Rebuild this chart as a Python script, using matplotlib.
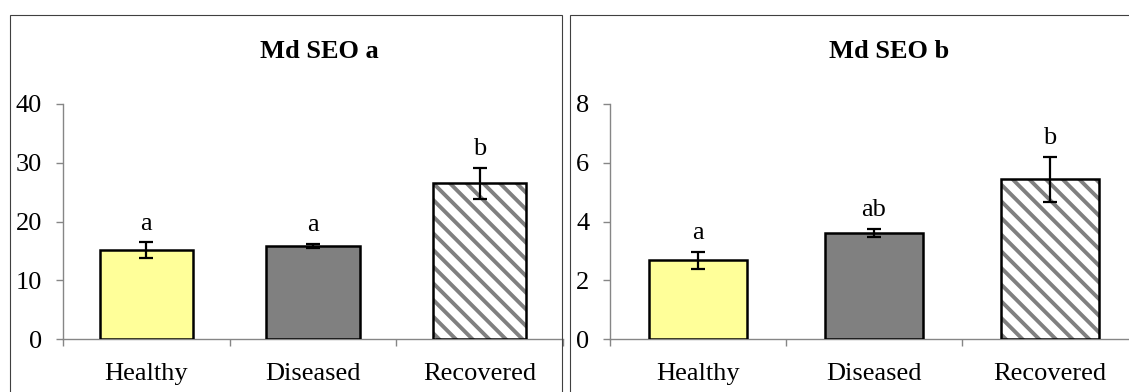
import numpy as np
import matplotlib
matplotlib.use("Agg")
import matplotlib.pyplot as plt
from matplotlib.patches import Rectangle

plt.rcParams['font.family'] = ['Liberation Serif', 'DejaVu Serif']
plt.rcParams['hatch.linewidth'] = 2.8

# Data

groups = ["Healthy", "Diseased", "Recovered"]

seo_a_mean = [15.1, 15.85, 26.5]
seo_a_err = [1.35, 0.35, 2.6]
seo_a_letters = ["a", "a", "b"]

seo_b_mean = [2.68, 3.62, 5.43]
seo_b_err = [0.28, 0.14, 0.77]
seo_b_letters = ["a", "ab", "b"]

# Styles

W, H = 1129, 392
yellow = "#FFFF99"
grey = "#808080"
axis_grey = "#868686"
fs = 19


def px(x0, y0, x1, y1):
    # pixel box (top-left origin) -> figure fraction rect
    return [x0 / W, 1 - y1 / H, (x1 - x0) / W, (y1 - y0) / H]


def panel(ax, means, errs, letters, ymax, step, title, title_x):
    x = np.arange(len(groups))
    # plain bars
    ax.bar(x[:2], means[:2], width=0.56, color=[yellow, grey],
           edgecolor="black", linewidth=1.8, zorder=3)
    # striped bar: hatch first, then the black outline on top
    ax.bar(x[2], means[2], width=0.56, color="white", edgecolor=grey,
           hatch="\\\\", linewidth=0, zorder=3)
    ax.bar(x[2], means[2], width=0.56, fill=False, edgecolor="black",
           linewidth=1.8, zorder=4)
    ax.errorbar(x, means, yerr=errs, fmt="none", ecolor="black",
                elinewidth=1.6, capsize=4.7, capthick=1.6, zorder=5)
    for xi, m, e, lab in zip(x, means, errs, letters):
        ax.annotate(lab, (xi, m + e), xytext=(0, 5.5), textcoords="offset points",
                    ha="center", va="bottom", fontsize=fs)

    ax.set_xlim(-0.5, 2.5)
    ax.set_ylim(0, ymax)
    ax.set_yticks(np.arange(0, ymax + step / 2, step))
    ax.set_xticks([-0.5, 0.5, 1.5, 2.5])
    ax.set_xticklabels([])
    ax.set_xticks(x, minor=True)
    ax.set_xticklabels(groups, minor=True)
    ax.tick_params(axis="y", direction="out", length=5, width=1,
                   color=axis_grey, pad=10, labelsize=fs)
    ax.tick_params(axis="x", which="major", direction="out", length=5,
                   width=1, color=axis_grey)
    ax.tick_params(axis="x", which="minor", length=0, pad=17, labelsize=fs)
    for s in ["top", "right"]:
        ax.spines[s].set_visible(False)
    for s in ["left", "bottom"]:
        ax.spines[s].set_color(axis_grey)
        ax.spines[s].set_linewidth(1)
    ax.patch.set_alpha(0)
    fig.text(title_x / W, 1 - 52 / H, title, ha="center", va="center",
             fontsize=fs, fontweight="bold")


fig = plt.figure(figsize=(W / 100, H / 100), dpi=100)

# chart frames
fig.patches.append(Rectangle((10 / W, -0.05), 552 / W, 1.05 - 15 / H,
                             transform=fig.transFigure, fill=False,
                             edgecolor="#404040", linewidth=0.8))
fig.patches.append(Rectangle((570 / W, -0.05), 0.6, 1.05 - 15 / H,
                             transform=fig.transFigure, fill=False,
                             edgecolor="#404040", linewidth=0.8))

ax1 = fig.add_axes(px(63, 104, 563, 339))
panel(ax1, seo_a_mean, seo_a_err, seo_a_letters, 40, 10, "Md SEO a", 319)

ax2 = fig.add_axes(px(610, 104, 1138, 339))
panel(ax2, seo_b_mean, seo_b_err, seo_b_letters, 8, 2, "Md SEO b", 889)

fig.savefig("out.png", dpi=100)
